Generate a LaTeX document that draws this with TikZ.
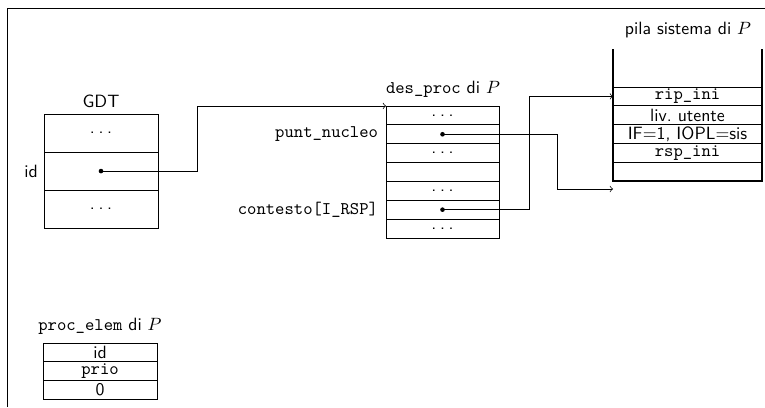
\documentclass[tikz,border=0pt]{standalone}
\usetikzlibrary{positioning}
\renewcommand{\familydefault}{\sfdefault}
\newcommand{\puntini}{.\kern2.1pt.\kern2.1pt.}
\tikzset{
  cell/.style={draw, inner sep=0pt, outer sep=0pt, minimum width=63.5pt, minimum height=10.6pt},
  bigcell/.style={cell, minimum width=64.1pt, minimum height=21.4pt},
  stcell/.style={cell, minimum width=83.8pt, minimum height=10.57pt},
  elcell/.style={cell, minimum width=64.1pt, minimum height=10.5pt},
  wall/.style={line width=1.5pt},
  ptr/.style={->},
  dot/.style={circle, fill, inner sep=0pt, minimum size=2.6pt}
}
\begin{document}
\begin{tikzpicture}[x=0.5622pt,y=-0.5622pt]
  \useasboundingbox (0,0) rectangle (765,407);
  % frame
  \draw (7,407) -- (7,8) -- (765,8);
  % GDT
  \node (gdtlab) at (101,101) {GDT};
  \node[bigcell] (gdt1) at (101,133) {\puntini};
  \node[bigcell, below=0pt of gdt1] (gdt2) {};
  \node[bigcell, below=0pt of gdt2] (gdt3) {\puntini};
  \node[left=0pt of gdt2] (gdtid) {id};
  \node[dot] (gdtptr) at (gdt2.center) {};
  % descrittore del processo
  \node (dplab) at (443,89) {\texttt{des\_proc} di $P$};
  \node[cell] (dp1) at (442.5,115.4) {\puntini};
  \node[cell, below=0pt of dp1] (dp2) {};
  \node[cell, below=0pt of dp2] (dp3) {\puntini};
  \node[cell, below=0pt of dp3] (dp4) {};
  \node[cell, below=0pt of dp4] (dp5) {\puntini};
  \node[cell, below=0pt of dp5] (dp6) {};
  \node[cell, below=0pt of dp6] (dp7) {\puntini};
  \node[left=1pt of dp2] (puntlab) {\texttt{punt\_nucleo}};
  \node[left=1pt of dp6] (rsplab) {\texttt{contesto[I\_RSP]}};
  \node[dot] (puntptr) at (dp2.center) {};
  \node[dot] (rspptr) at (dp6.center) {};
  % pila sistema
  \node (stlab) at (688,30) {pila sistema di $P$};
  \node[stcell] (st1) at (687.5,96.4) {\texttt{rip\_ini}};
  \node[stcell, below=0pt of st1] (st2) {liv.\ utente};
  \node[stcell, below=0pt of st2] (st3) {IF=1, IOPL=sis};
  \node[stcell, below=0pt of st3] (st4) {\texttt{rsp\_ini}};
  \node[stcell, below=0pt of st4] (st5) {};
  \draw[wall] (st1.north west) ++(0,-38) -- (st5.south west) -- (st5.south east) -- ++(0,-132);
  \coordinate (stfree) at (613,189);
  % proc_elem
  \node (pelab) at (100,326) {\texttt{proc\_elem} di $P$};
  \node[elcell] (pe1) at (100,352.3) {id};
  \node[elcell, below=0pt of pe1] (pe2) {\texttt{prio}};
  \node[elcell, below=0pt of pe2] (pe3) {0};
  % puntatori
  \draw[ptr] (gdtptr.center) -- ++(96,0) |- (dp1.north west);
  \draw[ptr] (rspptr.center) -- ++(87,0) |- (st1.west);
  \draw[ptr] (puntptr.center) -- ++(115,0) |- (stfree);
\end{tikzpicture}
\end{document}
